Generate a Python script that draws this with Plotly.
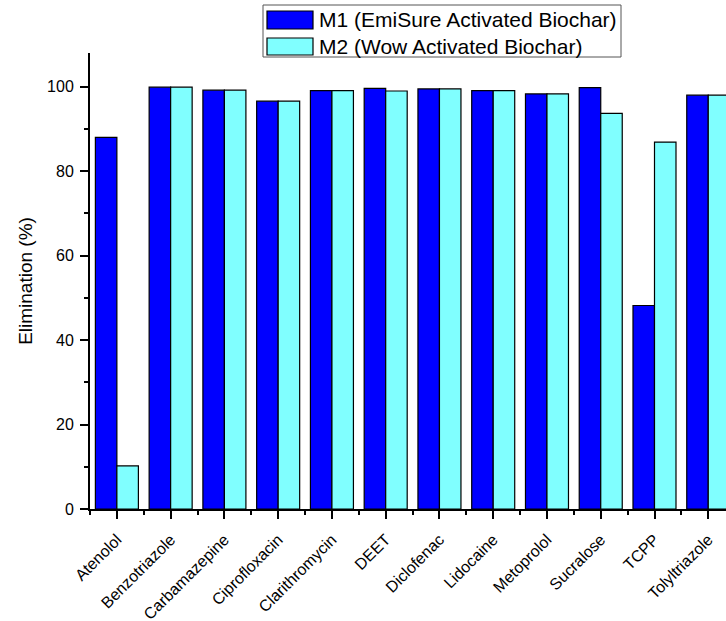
import plotly.graph_objects as go

# Compounds and elimination percentages for the two activated biochars
compounds = ["Atenolol", "Benzotriazole", "Carbamazepine", "Ciprofloxacin",
             "Clarithromycin", "DEET", "Diclofenac", "Lidocaine", "Metoprolol",
             "Sucralose", "TCPP", "Tolyltriazole"]
m1_values = [88.0, 99.9, 99.2, 96.6, 99.1, 99.6, 99.5, 99.1, 98.3, 99.8, 48.2, 98.0]
m2_values = [10.2, 99.9, 99.2, 96.6, 99.1, 99.0, 99.5, 99.1, 98.3, 93.7, 86.9, 98.0]
series_names = ["M1 (EmiSure Activated Biochar)", "M2 (Wow Activated Biochar)"]
series_colors = ["#0000FF", "#80FFFF"]
y_ticks = [0, 20, 40, 60, 80, 100]

positions = list(range(len(compounds)))
font_family = "Arial"

fig = go.Figure()
for name, vals, col in zip(series_names, [m1_values, m2_values], series_colors):
    fig.add_trace(go.Bar(
        x=positions, y=vals, name=name,
        marker=dict(color=col, line=dict(color="#000000", width=1.2)),
        showlegend=False,
    ))

fig.update_layout(
    width=726, height=621,
    margin=dict(l=90, r=0, t=53, b=112),
    paper_bgcolor="white", plot_bgcolor="white",
    barmode="group", bargap=0.2, bargroupgap=0,
    font=dict(family=font_family, color="#000000"),
)

fig.update_xaxes(
    range=[-0.5, 11.33], automargin=False,
    tickmode="array", tickvals=positions, ticktext=compounds,
    tickangle=-45, tickfont=dict(size=16),
    ticks="outside", ticklen=8, tickwidth=1.5, tickcolor="#000000",
    ticklabelstandoff=5,
    minor=dict(tickmode="array",
               tickvals=[p - 0.5 for p in positions] + [positions[-1] + 0.5],
               ticks="outside", ticklen=4, tickwidth=1.5, tickcolor="#000000"),
    showline=True, linecolor="#000000", linewidth=2,
    showgrid=False, zeroline=False,
)

fig.update_yaxes(
    range=[0, 108], automargin=False,
    tickmode="array", tickvals=y_ticks,
    tickfont=dict(size=16),
    ticks="outside", ticklen=8, tickwidth=1.5, tickcolor="#000000",
    ticklabelstandoff=3,
    minor=dict(tickmode="array", tickvals=[10, 30, 50, 70, 90],
               ticks="outside", ticklen=4, tickwidth=1.5, tickcolor="#000000"),
    showline=True, linecolor="#000000", linewidth=2,
    showgrid=False, zeroline=False,
    title=dict(text="Elimination (%)", font=dict(size=19), standoff=9),
)

# Legend box with wide colour swatches
fig.add_shape(type="rect", xref="paper", yref="paper",
              x0=(263 - 90) / 636, x1=(621 - 90) / 636,
              y0=(509 - 57) / 456, y1=(509 - 5) / 456,
              line=dict(color="#555555", width=1), fillcolor="white")
rows = [(11, 29), (38, 55)]
for (top, bot), name, col in zip(rows, series_names, series_colors):
    fig.add_shape(type="rect", xref="paper", yref="paper",
                  x0=(267 - 90) / 636, x1=(313 - 90) / 636,
                  y0=(509 - bot) / 456, y1=(509 - top) / 456,
                  line=dict(color="#000000", width=1.2), fillcolor=col)
    fig.add_annotation(xref="paper", yref="paper",
                       x=(317 - 90) / 636, y=(509 - (top + bot) / 2) / 456,
                       text=name, showarrow=False, xanchor="left", yanchor="middle",
                       font=dict(size=21, family=font_family, color="#000000"))

fig.write_html("out.html")
